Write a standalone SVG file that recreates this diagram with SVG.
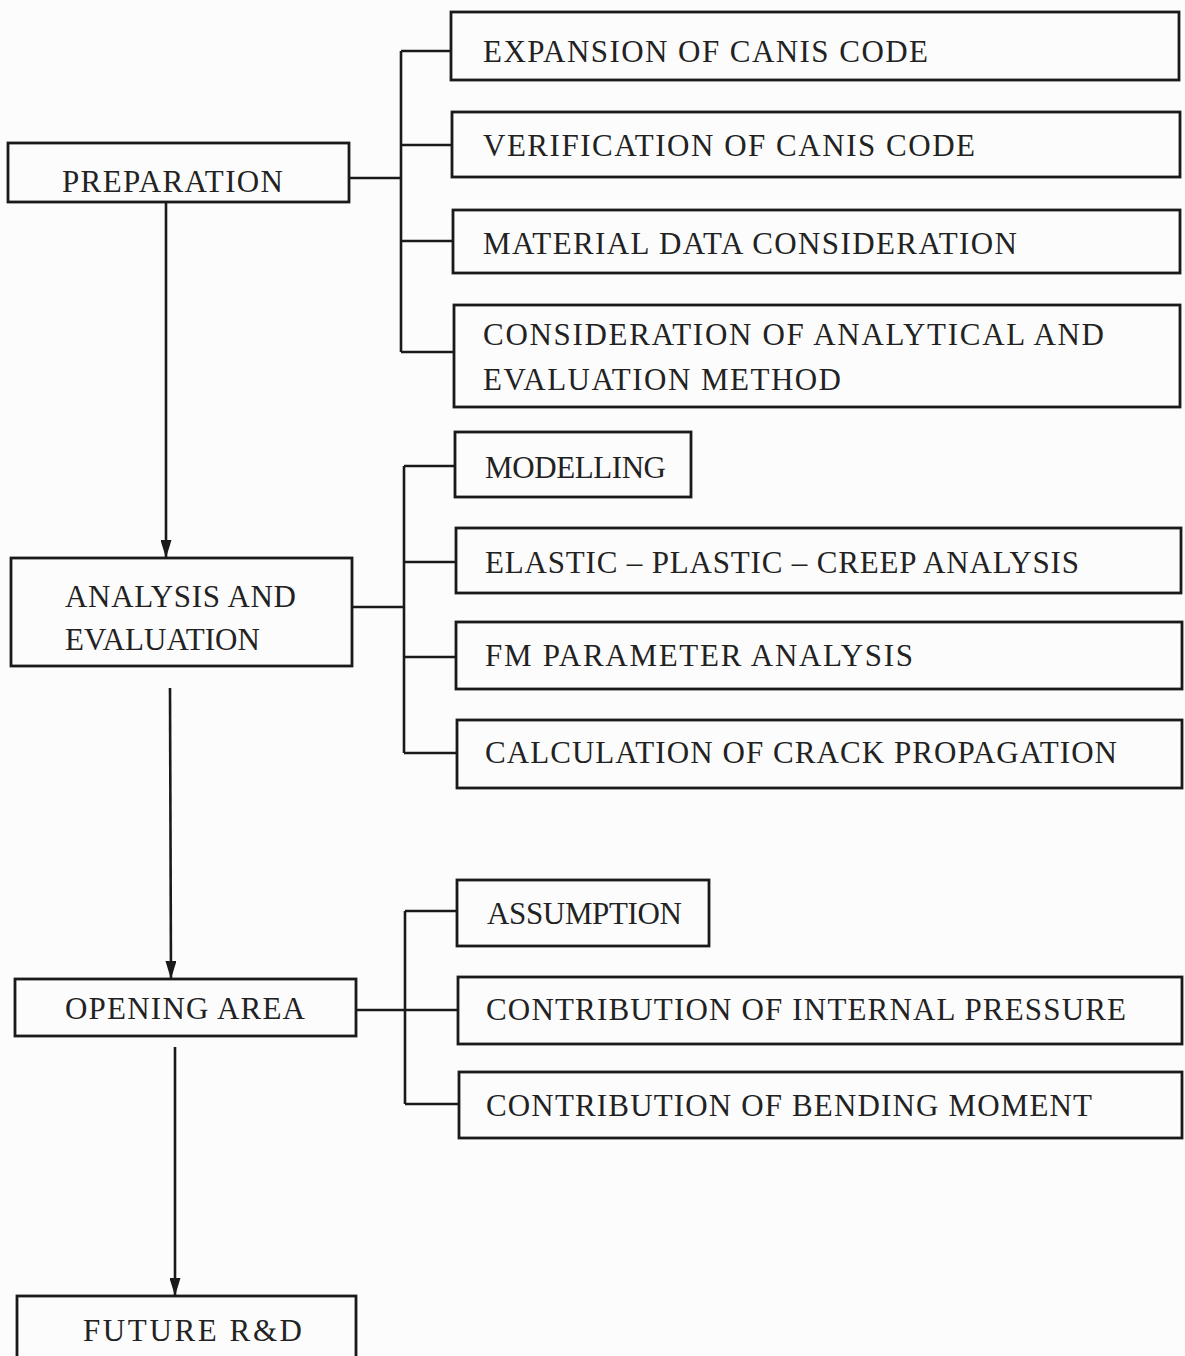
<svg xmlns="http://www.w3.org/2000/svg" width="1185" height="1356" viewBox="0 0 1185 1356">
<defs>
<style>
.box{fill:none;stroke:#1a1a1a;stroke-width:2.8}
.ln{fill:none;stroke:#1a1a1a;stroke-width:2.6}
text{font-family:"Liberation Serif","Times New Roman",serif;font-size:31px;fill:#222}
</style>
<marker id="ah" viewBox="0 0 18 11" refX="18" refY="5.5" markerWidth="18" markerHeight="11" markerUnits="userSpaceOnUse" orient="auto">
<path d="M0,0 L18,5.5 L0,11 Z" fill="#1a1a1a"/>
</marker>
</defs>
<rect width="1185" height="1356" fill="#fcfcfc"/>
<g id="connectors">
<path class="ln" d="M349,178 H401 M401,51 V352 M401,51 H451 M401,145 H452 M401,241 H453 M401,352 H454"/>
<path class="ln" d="M352,607 H404 M404,466 V753 M404,466 H455 M404,562 H456 M404,657 H456 M404,753 H457"/>
<path class="ln" d="M356,1010 H458 M405,911 V1104 M405,911 H457 M405,1104 H459"/>
<line class="ln" x1="166" y1="202" x2="166" y2="558" marker-end="url(#ah)"/>
<line class="ln" x1="170" y1="688" x2="171" y2="979" marker-end="url(#ah)"/>
<line class="ln" x1="175" y1="1047" x2="175" y2="1296" marker-end="url(#ah)"/>
</g>
<g id="preparation"><rect class="box" x="8" y="143" width="341" height="59"/><text x="62" y="192" textLength="221" lengthAdjust="spacing">PREPARATION</text></g>
<g id="expansion"><rect class="box" x="451" y="12" width="728" height="68"/><text x="483" y="62" textLength="445" lengthAdjust="spacing">EXPANSION OF CANIS CODE</text></g>
<g id="verification"><rect class="box" x="452" y="112" width="728" height="65"/><text x="483" y="156" textLength="492" lengthAdjust="spacing">VERIFICATION OF CANIS CODE</text></g>
<g id="material"><rect class="box" x="453" y="210" width="727" height="63"/><text x="483" y="254" textLength="534" lengthAdjust="spacing">MATERIAL DATA CONSIDERATION</text></g>
<g id="consideration"><rect class="box" x="454" y="305" width="726" height="102"/><text x="483" y="345" textLength="621" lengthAdjust="spacing">CONSIDERATION OF ANALYTICAL AND</text><text x="483" y="390" textLength="358" lengthAdjust="spacing">EVALUATION METHOD</text></g>
<g id="analysis"><rect class="box" x="11" y="558" width="341" height="108"/><text x="65" y="607" textLength="231" lengthAdjust="spacing">ANALYSIS AND</text><text x="65" y="650" textLength="195" lengthAdjust="spacing">EVALUATION</text></g>
<g id="modelling"><rect class="box" x="455" y="432" width="236" height="65"/><text x="485" y="478" textLength="181" lengthAdjust="spacing">MODELLING</text></g>
<g id="elastic"><rect class="box" x="456" y="528" width="725" height="65"/><text x="485" y="573" textLength="594" lengthAdjust="spacing">ELASTIC – PLASTIC – CREEP ANALYSIS</text></g>
<g id="fm"><rect class="box" x="456" y="622" width="726" height="67"/><text x="485" y="666" textLength="428" lengthAdjust="spacing">FM PARAMETER ANALYSIS</text></g>
<g id="calculation"><rect class="box" x="457" y="720" width="725" height="68"/><text x="485" y="763" textLength="632" lengthAdjust="spacing">CALCULATION OF CRACK PROPAGATION</text></g>
<g id="opening"><rect class="box" x="15" y="979" width="341" height="57"/><text x="65" y="1019" textLength="240" lengthAdjust="spacing">OPENING AREA</text></g>
<g id="assumption"><rect class="box" x="457" y="880" width="252" height="66"/><text x="487" y="924" textLength="195" lengthAdjust="spacing">ASSUMPTION</text></g>
<g id="internal"><rect class="box" x="458" y="977" width="724" height="67"/><text x="486" y="1020" textLength="640" lengthAdjust="spacing">CONTRIBUTION OF INTERNAL PRESSURE</text></g>
<g id="bending"><rect class="box" x="459" y="1072" width="723" height="66"/><text x="486" y="1116" textLength="606" lengthAdjust="spacing">CONTRIBUTION OF BENDING MOMENT</text></g>
<g id="future"><rect class="box" x="17" y="1296" width="339" height="70"/><text x="83" y="1341" textLength="219" lengthAdjust="spacing">FUTURE R&amp;D</text></g>
</svg>
